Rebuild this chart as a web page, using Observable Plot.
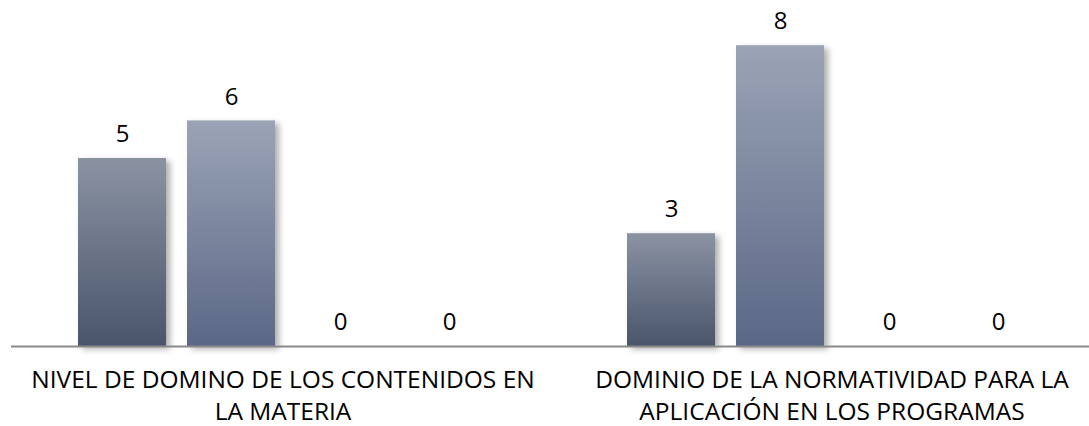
<!DOCTYPE html>
<html><head><meta charset="utf-8">
<script src="https://cdn.jsdelivr.net/npm/d3@7"></script>
<script src="https://cdn.jsdelivr.net/npm/@observablehq/plot@0.6"></script>
<style>
body{margin:0;background:#fff;}
g[aria-label="bar"] rect{filter:drop-shadow(4px 3px 3px rgba(0,0,0,0.32));}
</style></head><body><div id="chart"></div>
<script>
const categories = ["NIVEL DE DOMINO DE LOS CONTENIDOS EN LA MATERIA", "DOMINIO DE LA NORMATIVIDAD PARA LA APLICACIÓN EN LOS PROGRAMAS"];
const categoryLabels = ["NIVEL DE DOMINO DE LOS CONTENIDOS EN\nLA MATERIA", "DOMINIO DE LA NORMATIVIDAD PARA LA\nAPLICACIÓN EN LOS PROGRAMAS"];
const series = ["Serie 1", "Serie 2", "Serie 3", "Serie 4"];
const values1 = [5, 6, 0, 0];
const values2 = [3, 8, 0, 0];

const data = [];
[values1, values2].forEach((vals, i) => vals.forEach((v, j) => data.push({category: categories[i], series: series[j], value: v})));

const plot = Plot.plot({
  width: 1089, height: 426,
  marginLeft: 11, marginRight: -20, marginTop: 7.6, marginBottom: 80,
  style: {fontFamily: "'Open Sans', sans-serif", fontSize: "20px", color: "#000", background: "#fff", overflow: "visible"},
  fx: {domain: categories, padding: 0, label: null},
  x: {domain: series, paddingInner: 0.196, paddingOuter: 0.605, axis: null},
  y: {domain: [0, 9], axis: null},
  color: {domain: series, range: ["url(#g1)", "url(#g2)", "url(#g1)", "url(#g2)"]},
  marks: [
    Plot.barY(data, {fx: "category", x: "series", y: "value", fill: "series"}),
    Plot.ruleY([0], {stroke: "#898989", strokeWidth: 2}),
    Plot.text(data, {fx: "category", x: "series", y: "value", text: d => String(d.value), dy: -24, fontSize: 24, fill: "#000"}),
    Plot.axisFx({anchor: "bottom", tickFormat: d => categoryLabels[categories.indexOf(d)], tickSize: 0, tickPadding: 19, lineHeight: 1.29, dx: -3, fontSize: 24.5, fill: "#000", label: null})
  ]
});

const svg = d3.select(plot);
const defs = svg.insert("defs", ":first-child");
const grads = [["g1", "#8b93a3", "#4a556b"], ["g2", "#9ba4b6", "#5a6786"]];
grads.forEach(([id, top, bottom]) => {
  const g = defs.append("linearGradient").attr("id", id).attr("x1", 0).attr("y1", 0).attr("x2", 0).attr("y2", 1);
  g.append("stop").attr("offset", "0%").attr("stop-color", top);
  g.append("stop").attr("offset", "100%").attr("stop-color", bottom);
});
document.getElementById("chart").appendChild(plot);
</script></body></html>
